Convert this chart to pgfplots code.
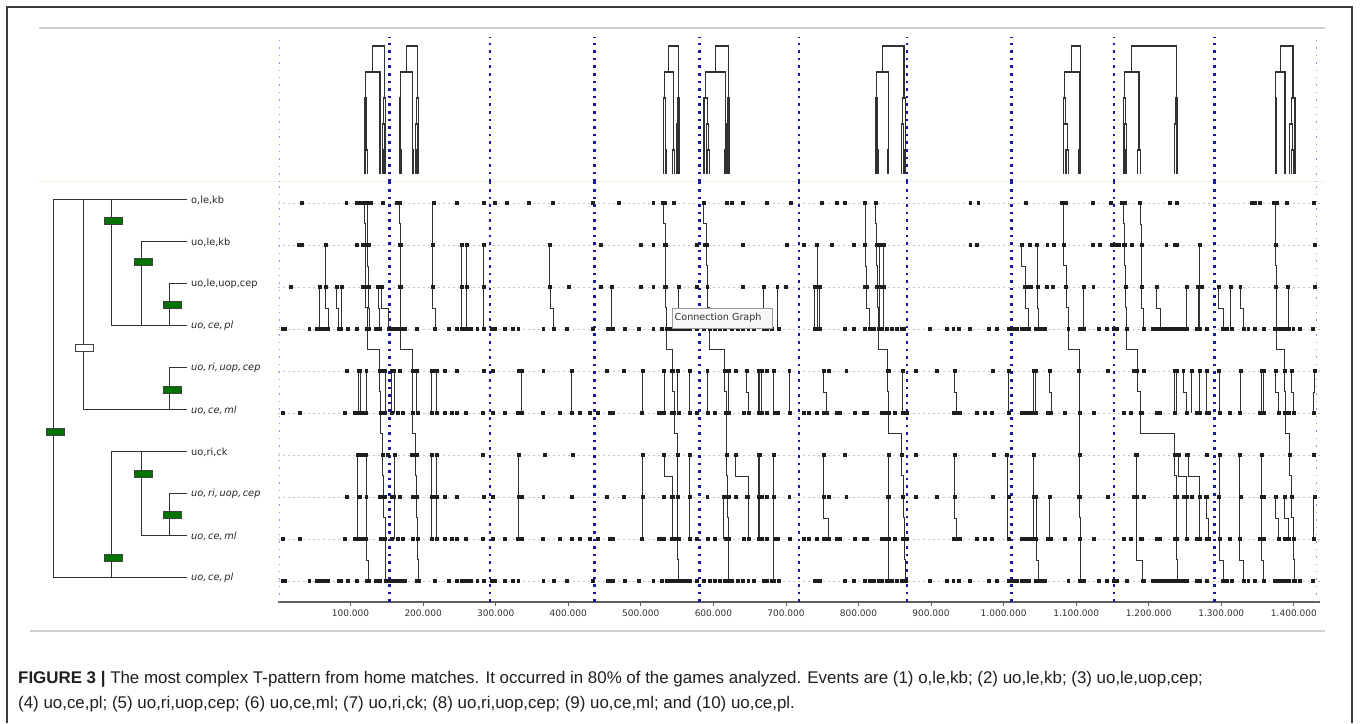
\documentclass[border=0pt]{standalone}
\usepackage{pgfplots}
\pgfplotsset{compat=1.18}
\usepackage{fontspec}
\setmainfont{Liberation Sans}
\newfontfamily\dv{DejaVu Sans}
\definecolor{bdot}{RGB}{25,25,165}
\definecolor{fdot}{RGB}{150,150,215}
\definecolor{lgrid}{RGB}{195,195,195}
\definecolor{ink}{RGB}{50,50,50}
\definecolor{dotc}{RGB}{30,30,30}
\definecolor{dgreen}{RGB}{0,115,0}
\definecolor{axgray}{RGB}{95,95,95}
\definecolor{pgray}{RGB}{208,208,208}
\definecolor{frame}{RGB}{60,60,60}

\begin{document}
\begin{tikzpicture}
\useasboundingbox (0pt,0pt) rectangle (1360pt,723pt);
\fill[white] (0pt,0pt) rectangle (1360pt,723pt);
% frame and panel rules
\draw[frame, line width=1.3pt] (7pt,0pt) -- (7pt,716pt) -- (1352pt,716pt) -- (1352pt,0pt);
\draw[pgray, line width=2pt] (39pt,695pt) -- (1325pt,695pt);
\draw[pgray, line width=2pt] (30pt,92pt) -- (1325pt,92pt);
\draw[color={rgb,255:red,246;green,240;blue,222}, line width=1pt] (39pt,541pt) -- (1325pt,541pt);

% ---------------- dendrogram -----------------
\begin{axis}[at={(0pt,124pt)}, anchor=south west, scale only axis,
  width=280pt, height=420pt, xmin=0, xmax=280, ymin=0.5, ymax=10.5,
  hide axis, clip=false, unbounded coords=jump]
\addplot[ink, line width=1pt] coordinates {(53,10)(53,1)(nan,nan)(83,10)(83,5)(nan,nan)(111,10)(111,7)(nan,nan)(141,9)(141,7)(nan,nan)(169.3,8)(169.3,7)(nan,nan)(169.3,6)(169.3,5)(nan,nan)(111,4)(111,1)(nan,nan)(141,4)(141,2)(nan,nan)(169.3,3)(169.3,2)(nan,nan)(53,10)(187,10)(nan,nan)(141,9)(187,9)(nan,nan)(169.3,8)(187,8)(nan,nan)(111,7)(187,7)(nan,nan)(169.3,6)(187,6)(nan,nan)(83,5)(187,5)(nan,nan)(111,4)(187,4)(nan,nan)(169.3,3)(187,3)(nan,nan)(141,2)(187,2)(nan,nan)(53,1)(187,1)};
\addplot[only marks, mark=square*, mark size=3.5pt, mark options={xscale=2.6, fill=dgreen, draw=black!75, line width=0.4pt}] coordinates {(55,4.49)(113,9.5)(143,8.52)(172,7.51)(172,5.48)(113,1.48)(143,3.49)(172,2.5)};
\addplot[only marks, mark=square*, mark size=3.5pt, mark options={xscale=2.6, fill=white, draw=black!75, line width=0.4pt}] coordinates {(84,6.49)};
\begin{scope}[every node/.style={anchor=west, inner sep=0pt, text=black!85, font=\dv\fontsize{9.8}{11}\selectfont}]
\node at (axis cs:191,10) {o,le,kb};
\node at (axis cs:191,9) {uo,le,kb};
\node at (axis cs:191,8) {uo,le,uop,cep};
\node at (axis cs:191,7) {\itshape uo,\,ce,\,pl};
\node at (axis cs:191,6) {\itshape uo,\,ri,\,uop,\,cep};
\node at (axis cs:191,5) {\itshape uo,\,ce,\,ml};
\node at (axis cs:191,4) {uo,ri,ck};
\node at (axis cs:191,3) {\itshape uo,\,ri,\,uop,\,cep};
\node at (axis cs:191,2) {\itshape uo,\,ce,\,ml};
\node at (axis cs:191,1) {\itshape uo,\,ce,\,pl};
\end{scope}
\end{axis}

% ---------------- main event plot -----------------
\begin{axis}[at={(278pt,121pt)}, anchor=south west, scale only axis,
  width=1042pt, height=420pt, xmin=0, xmax=1436, ymin=0.5, ymax=10.5,
  axis x line*=bottom, axis y line*=left,
  x axis line style={draw=axgray, line width=1.1pt, -},
  y axis line style={draw=none},
  ytick={1,2,3,4,5,6,7,8,9,10}, yticklabels={}, ytick style={draw=none},
  ymajorgrids, grid style={lgrid, line width=0.8pt, dash pattern=on 2pt off 3pt},
  xtick={100,200,300,400,500,600,700,800,900,1000,1100,1200,1300,1400},
  xticklabels={100.000,200.000,300.000,400.000,500.000,600.000,700.000,800.000,900.000,1.000.000,1.100.000,1.200.000,1.300.000,1.400.000},
  xtick style={draw=axgray, line width=0.8pt}, tick align=outside, major tick length=4pt,
  xticklabel style={font=\dv\fontsize{9}{10}\selectfont, text=black!80, yshift=0pt},
  unbounded coords=jump]
% game separators
\addplot[fdot, line width=1.4pt, dash pattern=on 1.4pt off 6pt] coordinates {(2,0.5)(2,10.5)(nan,nan)(1431,0.5)(1431,10.5)};
\addplot[bdot, line width=2.6pt, dash pattern=on 2.6pt off 5pt] coordinates {(154,0.5)(154,10.5)(nan,nan)(292,0.5)(292,10.5)(nan,nan)(436,0.5)(436,10.5)(nan,nan)(581,0.5)(581,10.5)(nan,nan)(718,0.5)(718,10.5)(nan,nan)(867,0.5)(867,10.5)(nan,nan)(1011,0.5)(1011,10.5)(nan,nan)(1152,0.5)(1152,10.5)(nan,nan)(1291,0.5)(1291,10.5)};
% partial pattern occurrences (events 1-4)
\addplot[ink, line width=0.95pt] coordinates {(57,8)(57,7)(nan,nan)(66,9)(66,7.5)(69,7.5)(69,7)(nan,nan)(81,8)(81,7.5)(83,7.5)(83,7)(nan,nan)(88,8)(88,7)(nan,nan)(123.5,10)(123.5,8.5)(124.5,8.5)(124.5,7.5)(125.5,7.5)(125.5,7)(nan,nan)(138,8)(138,7.5)(140.5,7.5)(140.5,7)(nan,nan)(143,8)(143,7.5)(152,7.5)(152,7)(nan,nan)(213,10)(213,7.5)(216.5,7.5)(216.5,7)(nan,nan)(253,9)(253,7)(nan,nan)(260,9)(260,7)(nan,nan)(283,9)(283,7)(nan,nan)(374,9)(374,8)(375,8)(375,7.5)(379.5,7.5)(379.5,7)(nan,nan)(460,8)(460,7)(nan,nan)(552.5,8)(552.5,7)(nan,nan)(669,8)(669,7)(nan,nan)(688,8)(688,7)(nan,nan)(740,8)(740,7)(nan,nan)(743,9)(743,7)(nan,nan)(746,8)(746,7)(nan,nan)(809,10)(809,8.5)(811,8.5)(811,7.5)(815,7.5)(815,7)(nan,nan)(829,9)(829,7)(nan,nan)(835,9)(835,7)(nan,nan)(1025,9)(1025,8.5)(1029.5,8.5)(1029.5,7.5)(1034,7.5)(1034,7)(nan,nan)(1046.5,9)(1046.5,7.5)(1048,7.5)(1048,7)(nan,nan)(1110,8)(1110,7)(nan,nan)(1188,10)(1188,9.5)(1190,9.5)(1190,7.5)(1192.5,7.5)(1192.5,7)(nan,nan)(1211,8)(1211,7.5)(1215.5,7.5)(1215.5,7)(nan,nan)(1252,8)(1252,7)(nan,nan)(1268,8)(1268,7)(nan,nan)(1270.5,9)(1270.5,7)(nan,nan)(1296,8)(1296,7.5)(1302.5,7.5)(1302.5,7)(nan,nan)(1313,8)(1313,7)(nan,nan)(1326,8)(1326,7.5)(1330.5,7.5)(1330.5,7)(nan,nan)(1392,8)(1392,7)};
% partial pattern occurrences (events 5-6)
\addplot[ink, line width=0.95pt] coordinates {(110.5,6)(110.5,5)(nan,nan)(113,6)(113,5)(nan,nan)(121.5,6)(121.5,5)(nan,nan)(147.5,6)(147.5,5)(nan,nan)(156.5,6)(156.5,5)(nan,nan)(160,6)(160,5)(nan,nan)(191,6)(191,5)(nan,nan)(212,6)(212,5)(nan,nan)(218.5,6)(218.5,5)(nan,nan)(336,6)(336,5)(nan,nan)(404.5,6)(404.5,5)(nan,nan)(502.5,6)(502.5,5)(nan,nan)(532,6)(532,5)(nan,nan)(551,6)(551,5)(nan,nan)(567,6)(567,5)(nan,nan)(591.5,6)(591.5,5)(nan,nan)(620.5,6)(620.5,5)(nan,nan)(646,6)(646,5.5)(648,5.5)(648,5)(nan,nan)(662,6)(662,5)(nan,nan)(664,6)(664,5)(nan,nan)(666.5,6)(666.5,5)(nan,nan)(683.5,6)(683.5,5)(nan,nan)(704.5,6)(704.5,5)(nan,nan)(751.5,6)(751.5,5.5)(756,5.5)(756,5)(nan,nan)(861,6)(861,5)(nan,nan)(932,6)(932,5.5)(935.3,5.5)(935.3,5)(nan,nan)(1006.5,6)(1006.5,5)(nan,nan)(1041,6)(1041,5)(nan,nan)(1044.5,6)(1044.5,5)(nan,nan)(1063,6)(1063,5.5)(1065.5,5.5)(1065.5,5)(nan,nan)(1236,6)(1236,5)(nan,nan)(1238.5,6)(1238.5,5)(nan,nan)(1247.5,6)(1247.5,5.5)(1252,5.5)(1252,5)(nan,nan)(1259,6)(1259,5)(nan,nan)(1270.5,6)(1270.5,5)(nan,nan)(1280,6)(1280,5)(nan,nan)(1297,6)(1297,5)(nan,nan)(1326.5,6)(1326.5,5)(nan,nan)(1355.5,6)(1355.5,5)(nan,nan)(1358,6)(1358,5)(nan,nan)(1375.3,6)(1375.3,5.5)(1378.5,5.5)(1378.5,5)(nan,nan)(1397,6)(1397,5.5)(1399,5.5)(1399,5)(nan,nan)(1429,6)(1429,5.5)(1426.7,5.5)(1426.7,5)};
% partial pattern occurrences (events 7-10)
\addplot[ink, line width=0.95pt] coordinates {(110,4)(110,2)(nan,nan)(121.3,4)(121.3,1.5)(125,1.5)(125,1)(nan,nan)(161,4)(161,2)(nan,nan)(212,4)(212,2)(nan,nan)(219,4)(219,2)(nan,nan)(332,4)(332,2)(nan,nan)(502.6,4)(502.6,2)(nan,nan)(532,4)(532,3.5)(544,3.5)(544,2)(nan,nan)(567,4)(567,2)(nan,nan)(613.7,3)(613.7,2)(nan,nan)(631,4)(631,3.5)(648,3.5)(648,2)(nan,nan)(662,4)(662,2)(nan,nan)(664,4)(664,2)(nan,nan)(683.5,4)(683.5,1)(nan,nan)(751.5,4)(751.5,2.5)(758.4,2.5)(758.4,2)(nan,nan)(841,4)(841,1)(nan,nan)(932,4)(932,2.5)(935.3,2.5)(935.3,2)(nan,nan)(1005,4)(1005,2)(nan,nan)(1041,4)(1041,2)(nan,nan)(1044.6,3)(1044.6,1.5)(1048,1.5)(1048,1)(nan,nan)(1063,3)(1063,2)(nan,nan)(1183.4,4)(1183.4,1.5)(1191.3,1.5)(1191.3,1)(nan,nan)(1240.7,4)(1240.7,3.5)(1252.3,3.5)(1252.3,2)(nan,nan)(1254.4,4)(1254.4,3.5)(1269.5,3.5)(1269.5,2)(nan,nan)(1279,3)(1279,2.5)(1282,2.5)(1282,2)(nan,nan)(1297.2,4)(1297.2,1.5)(1302.7,1.5)(1302.7,1)(nan,nan)(1325.2,4)(1325.2,1.5)(1330.2,1.5)(1330.2,1)(nan,nan)(1355.7,4)(1355.7,1.5)(1357.9,1.5)(1357.9,1)(nan,nan)(1375.3,3)(1375.3,2.5)(1378.5,2.5)(1378.5,2)(nan,nan)(1387.7,3)(1387.7,2.5)(1392.3,2.5)(1392.3,2)(nan,nan)(1426.7,3)(1426.7,2)};
% complete T-pattern occurrences
\addplot[ink, line width=1pt] coordinates {(119,10)(119,9.5)(120.5,9.5)(120.5,8.5)(121,8.5)(121,7.5)(123,7.5)(123,6.5)(140,6.5)(140,5.5)(141,5.5)(141,4.5)(144.5,4.5)(144.5,3.5)(146,3.5)(146,2.5)(147.5,2.5)(147.5,1.5)(148,1.5)(148,1)};
\addplot[ink, line width=1pt] coordinates {(168,10)(168,9.5)(168.5,9.5)(168.5,8.5)(169,8.5)(169,7.5)(169.5,7.5)(169.5,6.5)(185,6.5)(185,5.5)(186,5.5)(186,4.5)(190,4.5)(190,3.5)(191.5,3.5)(191.5,2.5)(192.5,2.5)(192.5,1.5)(193.5,1.5)(193.5,1)};
\addplot[ink, line width=1pt] coordinates {(531,10)(531,9.5)(533.5,9.5)(533.5,8.5)(534,8.5)(534,7.5)(535,7.5)(535,6.5)(543.5,6.5)(543.5,5.5)(546,5.5)(546,4.5)(550,4.5)(550,3.5)(550.5,3.5)(550.5,2.5)(551,2.5)(551,1.5)(552.5,1.5)(552.5,1)};
\addplot[ink, line width=1pt] coordinates {(587,10)(587,9.5)(591,9.5)(591,8.5)(591.5,8.5)(591.5,7.5)(595,7.5)(595,6.5)(616,6.5)(616,5.5)(617.5,5.5)(617.5,4.5)(618.5,4.5)(618.5,3.5)(619.5,3.5)(619.5,2.5)(620.5,2.5)(620.5,1.5)(621.5,1.5)(621.5,1)};
\addplot[ink, line width=1pt] coordinates {(824,10)(824,9.5)(825,9.5)(825,8.5)(825.5,8.5)(825.5,7.5)(827.5,7.5)(827.5,6.5)(840.5,6.5)(840.5,5.5)(841.5,5.5)(841.5,4.5)(859.5,4.5)(859.5,3.5)(861.5,3.5)(861.5,2.5)(863.5,2.5)(863.5,1.5)(864.5,1.5)(864.5,1)};
\addplot[ink, line width=1pt] coordinates {(1082,10)(1082,9.5)(1083,9.5)(1083,8.5)(1086,8.5)(1086,7.5)(1089,7.5)(1089,6.5)(1104,6.5)(1104,5.5)(1104.5,5.5)(1104.5,3.5)(1105,3.5)(1105,2.5)(1105.5,2.5)(1105.5,1.5)(1106,1.5)(1106,1)};
\addplot[ink, line width=1pt] coordinates {(1165,10)(1165,9.5)(1167,9.5)(1167,8.5)(1168.5,8.5)(1168.5,7.5)(1169.5,7.5)(1169.5,6.5)(1184,6.5)(1184,5.5)(1189,5.5)(1189,4.5)(1236,4.5)(1236,3.5)(1238,3.5)(1238,2.5)(1238.5,2.5)(1238.5,1.5)(1239,1.5)(1239,1)};
\addplot[ink, line width=1pt] coordinates {(1374.5,10)(1374.5,9.5)(1375,9.5)(1375,8.5)(1375.5,8.5)(1375.5,7.5)(1376,7.5)(1376,6.5)(1387,6.5)(1387,5.5)(1388.5,5.5)(1388.5,4.5)(1394.5,4.5)(1394.5,3.5)(1397,3.5)(1397,2.5)(1399,2.5)(1399,1.5)(1401.5,1.5)(1401.5,1)};
% event occurrences
\pgfplotsset{evt/.style={only marks, mark=square*, mark size=1.45pt, mark options={fill=dotc, draw=dotc}}}
% (1) o,le,kb
\addplot[evt] coordinates {(33,10)(94,10)(108,10)(111,10)(117,10)(119,10)(120,10)(124,10)(128,10)(144,10)(164,10)(168,10)(214,10)(246,10)(283,10)(299,10)(315,10)(346,10)(379,10)(434,10)(469,10)(517,10)(530,10)(531,10)(533,10)(545,10)(587,10)(618,10)(625,10)(640,10)(674,10)(706,10)(749,10)(770,10)(781,10)(809,10)(824,10)(954,10)(965,10)(1031,10)(1080,10)(1082,10)(1085,10)(1123,10)(1147,10)(1163,10)(1165,10)(1167,10)(1188,10)(1229,10)(1239,10)(1342,10)(1346,10)(1353,10)(1372,10)(1374.5,10)(1376,10)(1390,10)(1427,10)};
% (2) uo,le,kb
\addplot[evt] coordinates {(29,9)(33,9)(66,9)(108.5,9)(117,9)(120.5,9)(122,9)(124.5,9)(168,9)(168.5,9)(213,9)(253,9)(260,9)(283,9)(374,9)(445,9)(500,9)(517,9)(533.5,9)(534,9)(577,9)(588,9)(591,9)(640,9)(701,9)(725,9)(743,9)(763,9)(794,9)(809,9)(825,9)(829,9)(835,9)(954,9)(963,9)(1025,9)(1036,9)(1046,9)(1060,9)(1069,9)(1083,9)(1123,9)(1133,9)(1149,9)(1153.5,9)(1159,9)(1165,9)(1167,9)(1176.5,9)(1190,9)(1224,9)(1236,9)(1239,9)(1270.5,9)(1375,9)(1429,9)};
% (3) uo,le,uop,cep
\addplot[evt] coordinates {(17.5,8)(57,8)(66,8)(81,8)(88,8)(117,8)(120,8)(121,8)(122,8)(124.5,8)(138,8)(143,8)(168,8)(169,8)(213,8)(253,8)(260,8)(283,8)(375,8)(400,8)(445,8)(460,8)(500,8)(517,8)(533,8)(534,8)(552.5,8)(577,8)(591.5,8)(640,8)(669,8)(688,8)(700,8)(740,8)(743,8)(746,8)(809,8)(811,8)(825,8)(825.5,8)(832,8)(835,8)(1029.5,8)(1034,8)(1037,8)(1046.5,8)(1059,8)(1068,8)(1086,8)(1110,8)(1123.5,8)(1168.5,8)(1190,8)(1211,8)(1252,8)(1268,8)(1270.5,8)(1273,8)(1296,8)(1313,8)(1326,8)(1375.5,8)(1392,8)(1429,8)};
% (4) uo,ce,pl
\addplot[evt] coordinates {(6.5,7)(9.6,7)(43,7)(53,7)(57,7)(60,7)(63.5,7)(67,7)(69,7)(83,7)(86.5,7)(95.5,7)(109,7)(122,7)(123,7)(125.5,7)(135,7)(140.5,7)(152,7)(156.5,7)(161,7)(166,7)(169.5,7)(175,7)(191,7)(216.5,7)(235,7)(246,7)(253,7)(257.5,7)(260,7)(265.5,7)(274.5,7)(283,7)(294.5,7)(299,7)(313,7)(324,7)(331,7)(365.5,7)(379.5,7)(398,7)(434,7)(454,7)(457.5,7)(461,7)(478,7)(496.5,7)(517,7)(529,7)(535.5,7)(540,7)(545,7)(550,7)(554,7)(557.5,7)(563,7)(568,7)(577,7)(587,7)(595,7)(602,7)(609,7)(616,7)(625,7)(634,7)(641,7)(648,7)(656,7)(669,7)(673.5,7)(680,7)(689.5,7)(740,7)(743,7)(747,7)(781,7)(793,7)(809,7)(815,7)(820.5,7)(827.5,7)(832,7)(839,7)(845.5,7)(852.5,7)(859.5,7)(862.5,7)(898.5,7)(921.5,7)(930.5,7)(937.5,7)(953.5,7)(979,7)(991,7)(1006.5,7)(1013,7)(1018,7)(1025,7)(1029.5,7)(1034,7)(1044.5,7)(1048,7)(1052.5,7)(1057,7)(1089,7)(1105,7)(1110.5,7)(1130.5,7)(1142,7)(1151,7)(1156,7)(1169.5,7)(1192.5,7)(1206,7)(1211,7)(1215.5,7)(1220,7)(1224.5,7)(1229,7)(1234,7)(1238.5,7)(1243,7)(1247.5,7)(1252.5,7)(1266,7)(1270.5,7)(1280,7)(1302.5,7)(1307.5,7)(1314.5,7)(1330.5,7)(1337,7)(1346.5,7)(1358,7)(1374,7)(1376,7)(1378.5,7)(1383,7)(1387.5,7)(1392.5,7)(1399,7)(1408.5,7)(1426.5,7)};
% (5) uo,ri,uop,cep
\addplot[evt] coordinates {(94.5,6)(110.5,6)(113,6)(121.5,6)(140,6)(144.5,6)(147.5,6)(156.5,6)(160,6)(168,6)(185,6)(185.5,6)(191,6)(212,6)(216.5,6)(218.5,6)(230,6)(246,6)(283,6)(296,6)(331,6)(336,6)(365.5,6)(404.5,6)(453,6)(477,6)(502.5,6)(532,6)(542.5,6)(543.5,6)(551,6)(567,6)(591.5,6)(616,6)(618.5,6)(620.5,6)(631,6)(646,6)(662,6)(664,6)(666.5,6)(673.5,6)(683.5,6)(704.5,6)(751.5,6)(759.5,6)(783,6)(840.5,6)(841,6)(861,6)(879,6)(907.5,6)(932,6)(985.5,6)(1006.5,6)(1041,6)(1044.5,6)(1063,6)(1104,6)(1144,6)(1179,6)(1184,6)(1192.5,6)(1236,6)(1238.5,6)(1247.5,6)(1259,6)(1270.5,6)(1280,6)(1297,6)(1326.5,6)(1355.5,6)(1358,6)(1375.5,6)(1387,6)(1397,6)(1429,6)};
% (6) uo,ce,ml
\addplot[evt] coordinates {(6.9,5)(30.3,5)(92.3,5)(106.1,5)(110.7,5)(115.8,5)(121.3,5)(141,5)(147.5,5)(157.1,5)(165.4,5)(172.3,5)(186,5)(192.9,5)(212.2,5)(218.7,5)(230.1,5)(239.8,5)(246.7,5)(259.1,5)(282.5,5)(296.3,5)(312.8,5)(330.7,5)(336.2,5)(365.2,5)(388.6,5)(405.2,5)(416.2,5)(430,5)(441,5)(457.5,5)(461.2,5)(501.2,5)(524.1,5)(528.8,5)(531.9,5)(542.6,5)(546,5)(551.6,5)(566.8,5)(577,5)(591.6,5)(602.2,5)(617.5,5)(618.3,5)(620.6,5)(641.2,5)(648.1,5)(661.9,5)(664.2,5)(666.6,5)(673.5,5)(684.9,5)(689.4,5)(704.6,5)(724.9,5)(730.8,5)(742.4,5)(751.5,5)(756.2,5)(769.9,5)(774.5,5)(795.2,5)(806.6,5)(811.3,5)(831.9,5)(837.9,5)(841.1,5)(850.3,5)(860.9,5)(864.1,5)(866.4,5)(930.6,5)(935.3,5)(938.9,5)(962.9,5)(974.3,5)(983.5,5)(1006.4,5)(1024.9,5)(1029.4,5)(1034,5)(1040,5)(1044.6,5)(1060.2,5)(1064.8,5)(1084.5,5)(1104.3,5)(1123.6,5)(1164.9,5)(1175.1,5)(1189,5)(1190.3,5)(1210.9,5)(1215.5,5)(1236.2,5)(1252.3,5)(1266,5)(1270.6,5)(1279.8,5)(1282,5)(1297.2,5)(1311.9,5)(1325.7,5)(1353.3,5)(1357.8,5)(1378.5,5)(1387.7,5)(1392.3,5)(1399.2,5)(1426.7,5)};
% (7) uo,ri,ck
\addplot[evt] coordinates {(110.2,4)(115.8,4)(121.3,4)(144.5,4)(151.6,4)(161.2,4)(184.7,4)(190,4)(191.6,4)(212.2,4)(219.1,4)(282.5,4)(332.1,4)(367.9,4)(406.5,4)(502.6,4)(531.9,4)(550.3,4)(566.8,4)(618.3,4)(631.2,4)(661.9,4)(664.2,4)(683.5,4)(751.5,4)(781.4,4)(841.1,4)(859.5,4)(879.2,4)(932,4)(985.7,4)(1004.2,4)(1040.9,4)(1104.3,4)(1182.4,4)(1183.4,4)(1236.2,4)(1240.7,4)(1252.3,4)(1254.4,4)(1279.8,4)(1297.2,4)(1325.7,4)(1355.6,4)(1394.6,4)(1426.7,4)};
% (8) uo,ri,uop,cep
\addplot[evt] coordinates {(94.5,3)(110.5,3)(113,3)(121.5,3)(140,3)(144.5,3)(146,3)(147.5,3)(156.5,3)(160,3)(168,3)(185,3)(185.5,3)(191,3)(191.5,3)(212,3)(216.5,3)(218.5,3)(230,3)(246,3)(283,3)(296,3)(331,3)(336,3)(365.5,3)(404.5,3)(453,3)(477,3)(502.5,3)(532,3)(542.5,3)(544,3)(550.5,3)(551,3)(567,3)(591.5,3)(613.7,3)(616,3)(618.5,3)(619.5,3)(620.5,3)(631,3)(646,3)(648,3)(662,3)(664,3)(666.5,3)(673.5,3)(683.5,3)(704.5,3)(751.5,3)(759.5,3)(783,3)(840.5,3)(841,3)(861,3)(861.5,3)(879,3)(907.5,3)(932,3)(985.5,3)(1006.5,3)(1041,3)(1044.5,3)(1063,3)(1104,3)(1105,3)(1144,3)(1179,3)(1184,3)(1192.5,3)(1236,3)(1238,3)(1238.5,3)(1247.5,3)(1252.3,3)(1259,3)(1269.5,3)(1270.5,3)(1279,3)(1280,3)(1297,3)(1326.5,3)(1355.5,3)(1358,3)(1375.3,3)(1375.5,3)(1387,3)(1387.7,3)(1397,3)(1429,3)};
% (9) uo,ce,ml
\addplot[evt] coordinates {(6.9,2)(30.3,2)(92.3,2)(106.1,2)(110.7,2)(115.8,2)(121.3,2)(141,2)(147.5,2)(157.1,2)(165.4,2)(172.3,2)(186,2)(192.5,2)(192.9,2)(212.2,2)(218.7,2)(230.1,2)(239.8,2)(246.7,2)(259.1,2)(282.5,2)(296.3,2)(312.8,2)(330.7,2)(336.2,2)(365.2,2)(388.6,2)(405.2,2)(416.2,2)(430,2)(441,2)(457.5,2)(461.2,2)(501.2,2)(524.1,2)(528.8,2)(531.9,2)(542.6,2)(546,2)(551,2)(551.6,2)(566.8,2)(577,2)(591.6,2)(602.2,2)(617.5,2)(618.3,2)(620.5,2)(620.6,2)(641.2,2)(648.1,2)(661.9,2)(664.2,2)(666.6,2)(673.5,2)(684.9,2)(689.4,2)(704.6,2)(724.9,2)(730.8,2)(742.4,2)(751.5,2)(756.2,2)(758.4,2)(769.9,2)(774.5,2)(795.2,2)(806.6,2)(811.3,2)(831.9,2)(837.9,2)(841.1,2)(850.3,2)(860.9,2)(863.5,2)(864.1,2)(866.4,2)(930.6,2)(935.3,2)(938.9,2)(962.9,2)(974.3,2)(983.5,2)(1006.4,2)(1024.9,2)(1029.4,2)(1034,2)(1040,2)(1044.6,2)(1060.2,2)(1064.8,2)(1084.5,2)(1104.3,2)(1105.5,2)(1123.6,2)(1164.9,2)(1175.1,2)(1189,2)(1190.3,2)(1210.9,2)(1215.5,2)(1236.2,2)(1238.5,2)(1252.3,2)(1266,2)(1270.6,2)(1279.8,2)(1282,2)(1297.2,2)(1311.9,2)(1325.7,2)(1353.3,2)(1357.8,2)(1378.5,2)(1387.7,2)(1392.3,2)(1399,2)(1399.2,2)(1426.7,2)};
% (10) uo,ce,pl
\addplot[evt] coordinates {(6.5,1)(9.6,1)(43,1)(53,1)(57,1)(60,1)(63.5,1)(67,1)(69,1)(83,1)(86.5,1)(95.5,1)(109,1)(122,1)(125,1)(125.5,1)(135,1)(140.5,1)(148,1)(152,1)(156.5,1)(161,1)(166,1)(169.5,1)(175,1)(191,1)(193.5,1)(216.5,1)(235,1)(246,1)(253,1)(257.5,1)(260,1)(265.5,1)(274.5,1)(283,1)(294.5,1)(299,1)(313,1)(324,1)(331,1)(365.5,1)(379.5,1)(398,1)(434,1)(454,1)(457.5,1)(461,1)(478,1)(496.5,1)(517,1)(529,1)(535.5,1)(540,1)(545,1)(550,1)(552.5,1)(554,1)(557.5,1)(563,1)(568,1)(577,1)(587,1)(595,1)(602,1)(609,1)(616,1)(621.5,1)(625,1)(634,1)(641,1)(648,1)(656,1)(669,1)(673.5,1)(680,1)(683.5,1)(689.5,1)(740,1)(743,1)(747,1)(781,1)(793,1)(809,1)(815,1)(820.5,1)(827.5,1)(832,1)(839,1)(841,1)(845.5,1)(852.5,1)(859.5,1)(862.5,1)(864.5,1)(898.5,1)(921.5,1)(930.5,1)(937.5,1)(953.5,1)(979,1)(991,1)(1006.5,1)(1013,1)(1018,1)(1025,1)(1029.5,1)(1034,1)(1044.5,1)(1048,1)(1052.5,1)(1057,1)(1089,1)(1105,1)(1106,1)(1110.5,1)(1130.5,1)(1142,1)(1151,1)(1156,1)(1169.5,1)(1191.3,1)(1192.5,1)(1206,1)(1211,1)(1215.5,1)(1220,1)(1224.5,1)(1229,1)(1234,1)(1238.5,1)(1239,1)(1243,1)(1247.5,1)(1252.5,1)(1266,1)(1270.5,1)(1280,1)(1302.5,1)(1302.7,1)(1307.5,1)(1314.5,1)(1330.2,1)(1330.5,1)(1337,1)(1346.5,1)(1357.9,1)(1358,1)(1374,1)(1376,1)(1378.5,1)(1383,1)(1387.5,1)(1392.5,1)(1399,1)(1401.5,1)(1408.5,1)(1426.5,1)};
\end{axis}

% ---------------- pattern trees -----------------
\begin{axis}[at={(278pt,541pt)}, anchor=south west, scale only axis,
  width=1042pt, height=147pt, xmin=0, xmax=1436, ymin=0, ymax=147,
  hide axis, clip=false, unbounded coords=jump]
\addplot[fdot, line width=1.4pt, dash pattern=on 1.4pt off 6pt] coordinates {(2,0)(2,145)(nan,nan)(1431,0)(1431,145)};
\addplot[bdot, line width=2.6pt, dash pattern=on 2.6pt off 5pt] coordinates {(154,0)(154,145)(nan,nan)(292,0)(292,145)(nan,nan)(436,0)(436,145)(nan,nan)(581,0)(581,145)(nan,nan)(718,0)(718,145)(nan,nan)(867,0)(867,145)(nan,nan)(1011,0)(1011,145)(nan,nan)(1152,0)(1152,145)(nan,nan)(1291,0)(1291,145)};
\pgfplotsset{tree/.style={ink, line width=1.2pt}}
\addplot[tree] coordinates {(130.3,110)(130.3,136)(146.8,136)(146.8,84)(nan,nan)(120.1,84)(120.1,110)(140.5,110)(140.5,32)(nan,nan)(119,8)(119,84)(121.25,84)(121.25,58)(nan,nan)(120.5,8)(120.5,58)(122,58)(122,32)(nan,nan)(121,8)(121,32)(123,32)(123,8)(nan,nan)(140,8)(140,32)(141,32)(141,8)(nan,nan)(145.6,58)(145.6,84)(148,84)(148,8)(nan,nan)(144.5,8)(144.5,58)(146.75,58)(146.75,32)(nan,nan)(146,8)(146,32)(147.5,32)(147.5,8)};
\addplot[tree] coordinates {(177,110)(177,136)(192.25,136)(192.25,84)(nan,nan)(168.45,84)(168.45,110)(185.5,110)(185.5,32)(nan,nan)(168,8)(168,84)(168.9,84)(168.9,58)(nan,nan)(168.5,8)(168.5,58)(169.25,58)(169.25,32)(nan,nan)(169,8)(169,32)(169.5,32)(169.5,8)(nan,nan)(185,8)(185,32)(186,32)(186,8)(nan,nan)(191,58)(191,84)(193.5,84)(193.5,8)(nan,nan)(190,8)(190,58)(192,58)(192,32)(nan,nan)(191.5,8)(191.5,32)(192.5,32)(192.5,8)};
\addplot[tree] coordinates {(538.6,110)(538.6,136)(551.45,136)(551.45,84)(nan,nan)(532.5,84)(532.5,110)(544.75,110)(544.75,32)(nan,nan)(531,8)(531,84)(534,84)(534,58)(nan,nan)(533.5,8)(533.5,58)(534.5,58)(534.5,32)(nan,nan)(534,8)(534,32)(535,32)(535,8)(nan,nan)(543.5,8)(543.5,32)(546,32)(546,8)(nan,nan)(550.4,58)(550.4,84)(552.5,84)(552.5,8)(nan,nan)(550,8)(550,58)(550.75,58)(550.75,32)(nan,nan)(550.5,8)(550.5,32)(551,32)(551,8)};
\addplot[tree] coordinates {(603.15,110)(603.15,136)(620.4,136)(620.4,84)(nan,nan)(589.55,84)(589.55,110)(616.75,110)(616.75,32)(nan,nan)(587,8)(587,84)(592.1,84)(592.1,58)(nan,nan)(591,8)(591,58)(593.25,58)(593.25,32)(nan,nan)(591.5,8)(591.5,32)(595,32)(595,8)(nan,nan)(616,8)(616,32)(617.5,32)(617.5,8)(nan,nan)(619.25,58)(619.25,84)(621.5,84)(621.5,8)(nan,nan)(618.5,8)(618.5,58)(620,58)(620,32)(nan,nan)(619.5,8)(619.5,32)(620.5,32)(620.5,8)};
\addplot[tree] coordinates {(832.95,110)(832.95,136)(862.75,136)(862.75,84)(nan,nan)(824.9,84)(824.9,110)(841,110)(841,32)(nan,nan)(824,8)(824,84)(825.75,84)(825.75,58)(nan,nan)(825,8)(825,58)(826.5,58)(826.5,32)(nan,nan)(825.5,8)(825.5,32)(827.5,32)(827.5,8)(nan,nan)(840.5,8)(840.5,32)(841.5,32)(841.5,8)(nan,nan)(861,58)(861,84)(864.5,84)(864.5,8)(nan,nan)(859.5,8)(859.5,58)(862.5,58)(862.5,32)(nan,nan)(861.5,8)(861.5,32)(863.5,32)(863.5,8)};
\addplot[tree] coordinates {(1093.9,110)(1093.9,136)(1105.45,136)(1105.45,84)(nan,nan)(1083.6,84)(1083.6,110)(1104.25,110)(1104.25,32)(nan,nan)(1082,8)(1082,84)(1085.25,84)(1085.25,58)(nan,nan)(1083,8)(1083,58)(1087.5,58)(1087.5,32)(nan,nan)(1086,8)(1086,32)(1089,32)(1089,8)(nan,nan)(1104,8)(1104,32)(1104.5,32)(1104.5,8)(nan,nan)(1104.9,58)(1104.9,84)(1106,84)(1106,8)(nan,nan)(1104.5,8)(1104.5,58)(1105.25,58)(1105.25,32)(nan,nan)(1105,8)(1105,32)(1105.5,32)(1105.5,8)};
\addplot[tree] coordinates {(1176.5,110)(1176.5,136)(1238.05,136)(1238.05,84)(nan,nan)(1166.5,84)(1166.5,110)(1186.5,110)(1186.5,32)(nan,nan)(1165,8)(1165,84)(1168,84)(1168,58)(nan,nan)(1167,8)(1167,58)(1169,58)(1169,32)(nan,nan)(1168.5,8)(1168.5,32)(1169.5,32)(1169.5,8)(nan,nan)(1184,8)(1184,32)(1189,32)(1189,8)(nan,nan)(1237.1,58)(1237.1,84)(1239,84)(1239,8)(nan,nan)(1236,8)(1236,58)(1238.25,58)(1238.25,32)(nan,nan)(1238,8)(1238,32)(1238.5,32)(1238.5,8)};
\addplot[tree] coordinates {(1381.35,110)(1381.35,136)(1398.9,136)(1398.9,84)(nan,nan)(1374.95,84)(1374.95,110)(1387.75,110)(1387.75,32)(nan,nan)(1374.5,8)(1374.5,84)(1375.4,84)(1375.4,58)(nan,nan)(1375,8)(1375,58)(1375.75,58)(1375.75,32)(nan,nan)(1375.5,8)(1375.5,32)(1376,32)(1376,8)(nan,nan)(1387,8)(1387,32)(1388.5,32)(1388.5,8)(nan,nan)(1396.25,58)(1396.25,84)(1401.5,84)(1401.5,8)(nan,nan)(1394.5,8)(1394.5,58)(1398,58)(1398,32)(nan,nan)(1397,8)(1397,32)(1399,32)(1399,8)};
\end{axis}

% tooltip
\draw[black!40, fill=black!3, line width=0.6pt] (672pt,395pt) rectangle (772pt,415pt);
\node[anchor=west, inner sep=0pt, text=black!80, font=\dv\fontsize{9.6}{11}\selectfont] at (674.5pt,405pt) {Connection Graph};

% caption
\node[anchor=base west, inner sep=0pt, text=black!88, font=\fontsize{16.9}{20}\selectfont] at (18pt,40pt) {\textbf{FIGURE 3 |} The most complex T-pattern from home matches. It occurred in 80\% of the games analyzed. Events are (1) o,le,kb; (2) uo,le,kb; (3) uo,le,uop,cep;};
\node[anchor=base west, inner sep=0pt, text=black!88, font=\fontsize{16.9}{20}\selectfont] at (18pt,15pt) {(4) uo,ce,pl; (5) uo,ri,uop,cep; (6) uo,ce,ml; (7) uo,ri,ck; (8) uo,ri,uop,cep; (9) uo,ce,ml; and (10) uo,ce,pl.};
\end{tikzpicture}
\end{document}
